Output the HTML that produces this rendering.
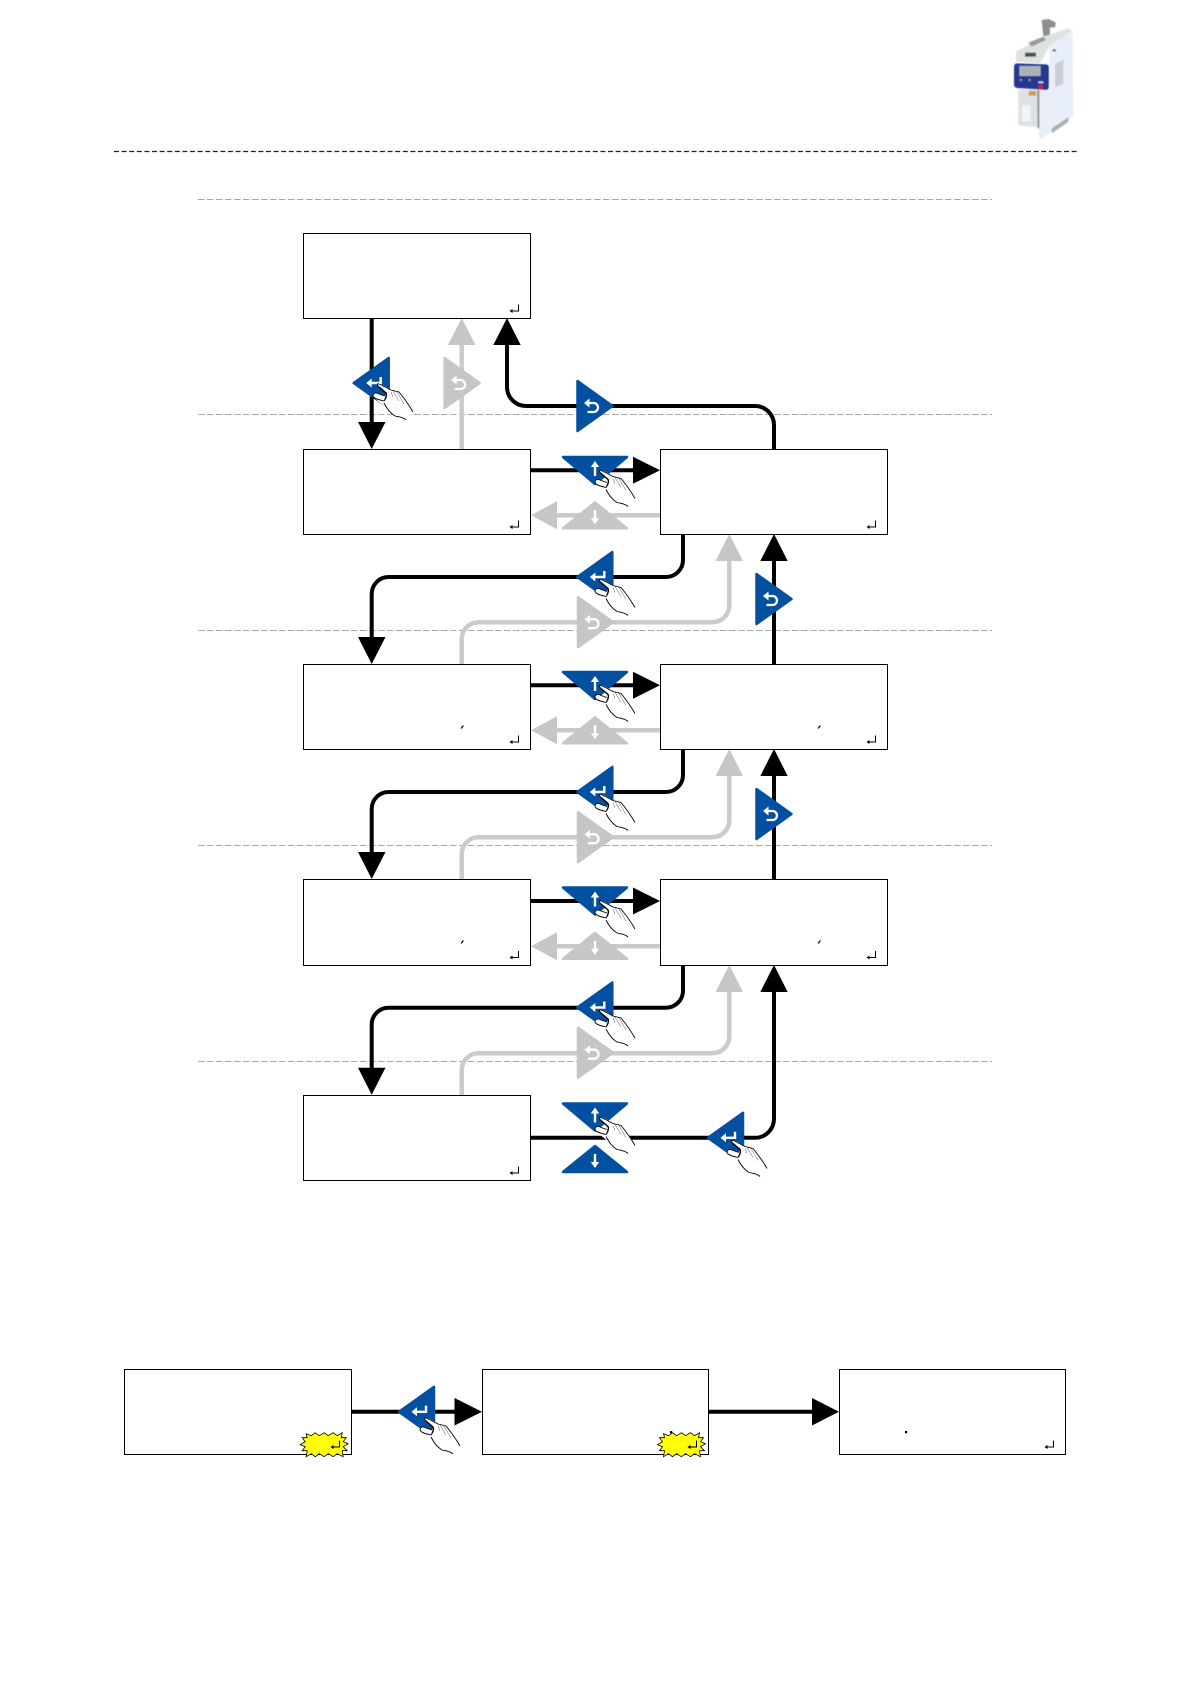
<!DOCTYPE html>
<html>
<head>
<meta charset="utf-8">
<title>Diagram</title>
<style>
html,body{margin:0;padding:0;background:#fff;}
svg{display:block;}
</style>
</head>
<body>
<svg width="1191" height="1684" viewBox="0 0 1191 1684" xmlns="http://www.w3.org/2000/svg">
<defs>
<filter id="soft" x="-5%" y="-5%" width="110%" height="110%"><feGaussianBlur stdDeviation="1.6"/></filter>
<filter id="soft2" x="-5%" y="-5%" width="110%" height="110%"><feGaussianBlur stdDeviation="0.35"/></filter>

<g id="hand">
  <path d="M0,0 C3,-1 8,3 14,6 L21,8 C26,14 31,21 35,28 L28,36 C20,33 12,31 7,23 C3,19 -3,16 -5,12 C-5,9 -2,8 1,10 L7,12 L8,9 L0,2 Z" fill="#fff"/>
  <path d="M1,3 C-1,1 -1,-1 1,0 C4,1 9,4 13,6 L21,8 C26,14 31,21 35,28" fill="none" stroke="#000" stroke-width=".9"/>
  <path d="M1,3 L8,9 C9,11 8,14 6,17" fill="none" stroke="#000" stroke-width="1.4"/>
  <path d="M6,17 C2,16 -4,15 -5,12 C-5,9 -2,8 1,10 L7,12" fill="#fff" stroke="#000" stroke-width=".9"/>
  <path d="M6,19 C9,25 12,29 17,32 C21,33 25,33 28,36" fill="none" stroke="#000" stroke-width=".9"/>
  <path d="M15,7 L21,17 M19,8 L26,20 M13,8 L15,13" fill="none" stroke="#555" stroke-width=".5"/>
</g>

<g id="iconEnter"><path d="M5,-6 V0 H-5" fill="none" stroke="#fff" stroke-width="2.4"/><path d="M-9.5,0 L-4,-4.5 V4.5 Z" fill="#fff"/></g>
<g id="iconBack"><path d="M-2,-3 H3 A4.5,4.5 0 0 1 3,6 H-3" fill="none" stroke="#fff" stroke-width="2.3"/><path d="M-6.5,-3 L-1,-7.5 V1.5 Z" fill="#fff"/></g>
<g id="iconUp"><path d="M0,6 V-4" fill="none" stroke="#fff" stroke-width="2.4"/><path d="M0,-9 L4.2,-3 H-4.2 Z" fill="#fff"/></g>
<g id="iconDown"><path d="M0,-5 V4" fill="none" stroke="#fff" stroke-width="2.4"/><path d="M0,9 L4.2,3 H-4.2 Z" fill="#fff"/></g>

<g id="bEnter"><path d="M-22,0 L13,-25 V25 Z" fill="#0350a0" stroke="#0350a0" stroke-width="2.5" stroke-linejoin="round"/><use href="#iconEnter"/></g>
<g id="gBack"><path d="M-13,-25 L22,0 L-13,25 Z" fill="#c6c6c6" stroke="#c6c6c6" stroke-width="2.5" stroke-linejoin="round"/><use href="#iconBack"/></g>
<g id="bBack"><path d="M-13,-25 L22,0 L-13,25 Z" fill="#0350a0" stroke="#0350a0" stroke-width="2.5" stroke-linejoin="round"/><use href="#iconBack"/></g>
<g id="bDownTri"><path d="M-32,-13 H32 L0,14 Z" fill="#0350a0" stroke="#0350a0" stroke-width="2.5" stroke-linejoin="round"/><use href="#iconUp"/></g>
<g id="gUpTri"><path d="M-32,13 H32 L0,-13 Z" fill="#c6c6c6" stroke="#c6c6c6" stroke-width="2.5" stroke-linejoin="round"/><use href="#iconDown"/></g>
<g id="bUpTri"><path d="M-32,13 H32 L0,-13 Z" fill="#0350a0" stroke="#0350a0" stroke-width="2.5" stroke-linejoin="round"/><use href="#iconDown"/></g>

<g id="ret"><path d="M8.5,-13 V-6.5 H1.5" fill="none" stroke="#000" stroke-width="1"/><path d="M-.5,-6.5 L2.5,-8.5 V-4.5 Z" fill="#000"/></g>
<path id="burst" d="M-18,-11 -13,-9 -9,-12 -5,-9 0,-12 4,-9 9,-12 13,-9 18,-12 17,-7 22,-7 19,-3 24,-1 19,2 23,6 18,6 19,12 13,9 9,12 4,9 0,12 -5,9 -9,12 -13,9 -18,12 -17,6 -22,6 -19,2 -24,0 -19,-3 -22,-7 -17,-7 Z" fill="#ffff00" stroke="#000" stroke-width=".8"/>

<g id="grayRow">
  <path d="M660,515.3 H550" fill="none" stroke="#c9c9c9" stroke-width="4.5"/>
  <path d="M531,515.3 L557,501.3 V529.3 Z" fill="#c6c6c6"/>
  <path d="M461.7,664 V639.2 A17,17 0 0 1 479,622.2 H712 A17,17 0 0 0 729.3,605 V555" fill="none" stroke="#cbcbcb" stroke-width="4.5"/>
  <path d="M729.3,534 L743,561 H715.5 Z" fill="#c6c6c6"/>
</g>
<g id="blackRow">
  <path d="M530,470.3 H640" fill="none" stroke="#000" stroke-width="4"/>
  <path d="M660,470.3 L633,456.8 V483.8 Z" fill="#000"/>
  <path d="M683,534 V560 A17,17 0 0 1 666,577 H389 A17,17 0 0 0 371.7,594 V642" fill="none" stroke="#000" stroke-width="4"/>
  <path d="M371.7,664 L358,637 H385.5 Z" fill="#000"/>
</g>
<g id="iconRow">
  <use href="#gUpTri" x="595" y="515.3"/>
  <use href="#bDownTri" x="595" y="470"/>
  <use href="#hand" x="600" y="470.5"/>
  <use href="#gBack" x="591" y="622.2"/>
  <use href="#bEnter" x="599.3" y="577"/>
  <use href="#hand" x="600" y="579.5"/>
</g>
</defs>

<rect width="1191" height="1684" fill="#fff"/>

<!-- device photo -->
<g transform="translate(1000,10) scale(.3333)">
  <g filter="url(#soft)">
    <path d="M125,30 L145,27 L167,37 L165,52 L150,52 L150,78 L130,78 Z" fill="#8d9090"/>
    <path d="M48,125 L130,80 L205,55 L218,65 L148,110 L120,160 L48,155 Z" fill="#dfe2e3"/>
    <path d="M148,110 L218,60 L220,320 L118,390 L115,240 L147,240 Z" fill="#e9eff8"/>
    <path d="M55,238 L115,238 L116,352 L55,346 Z" fill="#dde0e5"/>
    <path d="M112,240 H118 V355 H113 Z" fill="#8a8d8c"/>
    <rect x="66" y="286" width="26" height="48" fill="#f5f5f5"/>
    <rect x="75" y="128" width="33" height="12" fill="#4c4e50"/>
    <path d="M85,98 L130,80 L138,90 L95,110 Z" fill="#9a9c9e"/>
    <path d="M42,170 Q42,160 52,160 L138,163 Q147,164 147,172 V230 Q147,240 138,240 L52,234 Q42,233 42,224 Z" fill="#27378e"/>
    <rect x="58" y="168" width="64" height="30" fill="#aab3ba"/>
    <circle cx="122" cy="232" r="7" fill="#d81c34"/>
    <rect x="60" y="208" width="5" height="4" fill="#c8d0e8"/>
    <rect x="86" y="208" width="5" height="4" fill="#c8d0e8"/>
    <rect x="115" y="214" width="15" height="6" fill="#c8d0e8"/>
    <rect x="86" y="243" width="22" height="14" fill="#c4a055"/>
    <path d="M165,162 L190,150 V222 L165,232 Z" fill="#c9ced6"/>
    <path d="M155,355 L205,322 V336 L155,370 Z" fill="#aab0b8"/>
    <rect x="158" y="118" width="10" height="6" fill="#555"/>
  </g>
</g>

<!-- dashed lines -->
<path d="M114,151.5 H1077" stroke="#222" stroke-width="1.3" stroke-dasharray="5 2.6" fill="none"/>
<g stroke="#a8a8a8" stroke-width="1" stroke-dasharray="6.5 2.5" fill="none">
  <path d="M198,199.5 H992"/>
  <path d="M198,414.5 H992"/>
  <path d="M198,630.5 H992"/>
  <path d="M198,845.5 H992"/>
  <path d="M198,1061.5 H992"/>
</g>

<!-- gray connectors -->
<g filter="url(#soft2)">
  <path d="M461.7,449 V340" fill="none" stroke="#cbcbcb" stroke-width="4.5"/>
  <path d="M461.7,318 L475.5,345 H448 Z" fill="#c6c6c6"/>
  <use href="#grayRow"/>
  <use href="#grayRow" y="215"/>
  <use href="#grayRow" y="431"/>
</g>

<!-- black connectors -->
<path d="M371.7,318 V425" fill="none" stroke="#000" stroke-width="4"/>
<path d="M371.7,449 L358,422 H385.5 Z" fill="#000"/>
<path d="M774,449 V425 A19,19 0 0 0 755,406 H526 A19,19 0 0 1 507,387 V340" fill="none" stroke="#000" stroke-width="4"/>
<path d="M507,318 L520.7,345 H493.3 Z" fill="#000"/>

<use href="#blackRow"/>
<use href="#blackRow" y="215"/>
<use href="#blackRow" y="430.7"/>

<path d="M774,664 V555" fill="none" stroke="#000" stroke-width="4"/>
<path d="M774,534 L787.7,561 H760.3 Z" fill="#000"/>
<path d="M774,879 V770" fill="none" stroke="#000" stroke-width="4"/>
<path d="M774,749 L787.7,776 H760.3 Z" fill="#000"/>
<path d="M530,1137.8 H755 A19,19 0 0 0 774,1118.8 V985" fill="none" stroke="#000" stroke-width="4"/>
<path d="M774,965 L787.7,992 H760.3 Z" fill="#000"/>

<path d="M352,1411.8 H460" fill="none" stroke="#000" stroke-width="4"/>
<path d="M482,1411.8 L454.5,1398 V1425.5 Z" fill="#000"/>
<path d="M708,1411.8 H818" fill="none" stroke="#000" stroke-width="4"/>
<path d="M839,1411.8 L812,1398 V1425.5 Z" fill="#000"/>

<!-- boxes -->
<g fill="#fff" stroke="#000" stroke-width="1">
  <rect x="303.5" y="233.5" width="227" height="85"/>
  <rect x="303.5" y="449.5" width="227" height="85"/>
  <rect x="303.5" y="664.5" width="227" height="85"/>
  <rect x="303.5" y="879.5" width="227" height="86"/>
  <rect x="303.5" y="1095.5" width="227" height="85"/>
  <rect x="660.5" y="449.5" width="227" height="85"/>
  <rect x="660.5" y="664.5" width="227" height="85"/>
  <rect x="660.5" y="879.5" width="227" height="86"/>
  <rect x="124.5" y="1369.5" width="227" height="85"/>
  <rect x="482.5" y="1369.5" width="226" height="85"/>
  <rect x="839.5" y="1369.5" width="226" height="85"/>
</g>

<!-- box contents -->
<use href="#ret" x="510" y="317.5"/>
<use href="#ret" x="510" y="533.5"/>
<use href="#ret" x="510" y="748.5"/>
<use href="#ret" x="510" y="964"/>
<use href="#ret" x="510" y="1179.5"/>
<use href="#ret" x="867" y="533.5"/>
<use href="#ret" x="867" y="748.5"/>
<use href="#ret" x="867" y="964"/>
<g fill="#000">
  <path d="M460.5,728.5 L462.5,725.5 H464 L462,728.5 Z"/>
  <path d="M817.5,728.5 L819.5,725.5 H821 L819,728.5 Z"/>
  <path d="M460.5,943.5 L462.5,940.5 H464 L462,943.5 Z"/>
  <path d="M817.5,943.5 L819.5,940.5 H821 L819,943.5 Z"/>
  <rect x="905" y="1431" width="2.2" height="2.2"/>
  <rect x="670" y="1431" width="2.2" height="2.2"/>
</g>
<use href="#burst" x="324.2" y="1444.7"/>
<use href="#burst" x="681.5" y="1444.7"/>
<use href="#ret" x="331" y="1453.5"/>
<use href="#ret" x="688" y="1453.5"/>
<use href="#ret" x="1045" y="1453.5"/>

<!-- icons -->
<use href="#gBack" x="457.6" y="383"/>
<use href="#bEnter" x="375.7" y="383"/>
<use href="#hand" x="378" y="384"/>
<use href="#bBack" x="590.5" y="406"/>

<use href="#iconRow"/>
<use href="#iconRow" y="215"/>
<use href="#iconRow" y="430.5"/>

<use href="#bBack" x="769.5" y="599"/>
<use href="#bBack" x="769.5" y="814"/>

<use href="#bUpTri" x="595" y="1159"/>
<use href="#bDownTri" x="595" y="1116.5"/>
<use href="#hand" x="600" y="1117.5"/>
<use href="#bEnter" x="730" y="1137.8"/>
<use href="#hand" x="732" y="1140.5"/>

<use href="#bEnter" x="421" y="1411.8"/>
<use href="#hand" x="425" y="1418"/>
</svg>
</body>
</html>
